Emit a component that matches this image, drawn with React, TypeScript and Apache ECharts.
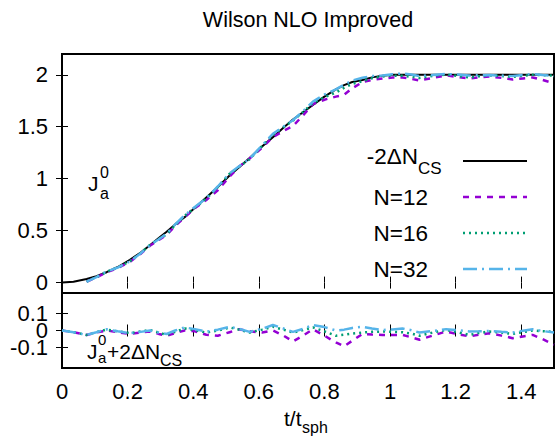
import React, { useEffect, useRef } from 'react';
import * as echarts from 'echarts';

const FONT = '"Liberation Sans", Arial, Helvetica, sans-serif';

// time grid t/t_sph
const T = [0, 0.035, 0.075, 0.105, 0.136, 0.17, 0.207, 0.24, 0.268, 0.295, 0.319, 0.345, 0.374, 0.405, 0.44, 0.475, 0.511, 0.54, 0.572, 0.61, 0.643, 0.675, 0.704, 0.735, 0.765, 0.8, 0.835, 0.86, 0.885, 0.916, 0.945, 0.977, 1.008, 1.038, 1.065, 1.09, 1.13, 1.171, 1.205, 1.242, 1.27, 1.303, 1.34, 1.374, 1.405, 1.435, 1.465, 1.5];

// -2 ΔN_CS
const NEG2DNCS = [0, 0.008, 0.035, 0.062, 0.10, 0.15, 0.22, 0.29, 0.36, 0.43, 0.49, 0.56, 0.63, 0.72, 0.82, 0.92, 1.03, 1.11, 1.20, 1.31, 1.40, 1.49, 1.57, 1.64, 1.71, 1.79, 1.86, 1.90, 1.93, 1.95, 1.975, 1.99, 2.0, 2.0, 2.0, 2.0, 2.0, 2.0, 2.0, 2.0, 2.0, 2.0, 2.0, 2.0, 2.0, 2.0, 2.0, 2.0];

// J_a^0 + 2ΔN_CS for each lattice size
const DIFF_N12 = [0, -0.01, -0.026, -0.012, 0, -0.01, -0.02, -0.012, -0.006, -0.02, -0.031, -0.015, 0, -0.005, -0.025, -0.031, -0.01, 0.007, -0.005, -0.012, 0, -0.03, -0.064, -0.03, 0.007, -0.03, -0.07, -0.093, -0.06, -0.02, -0.024, -0.026, -0.026, -0.026, -0.04, -0.054, -0.03, -0.006, -0.02, -0.035, -0.025, -0.016, -0.03, -0.045, -0.035, -0.026, -0.05, -0.083];
const DIFF_N16 = [0, -0.01, -0.026, -0.01, 0.005, -0.005, -0.015, -0.006, 0.003, -0.012, -0.026, -0.008, 0.012, 0.002, -0.012, 0, 0.018, 0.005, -0.012, 0.005, 0.022, 0.005, -0.012, 0.003, 0.018, -0.005, -0.031, -0.025, -0.018, -0.012, -0.008, -0.006, -0.008, -0.01, -0.018, -0.031, -0.012, 0.003, -0.01, -0.026, -0.015, -0.006, -0.012, -0.02, -0.01, 0, -0.004, -0.008];
const DIFF_N32 = [0, -0.01, -0.026, -0.01, 0.007, -0.005, -0.016, -0.008, 0, -0.012, -0.02, 0, 0.018, 0.008, -0.007, 0.005, 0.022, 0.01, -0.008, 0.01, 0.032, 0.012, -0.008, 0.01, 0.032, 0.02, 0, 0.005, 0.015, 0.022, 0.012, 0.003, 0.006, 0.012, 0.002, -0.012, -0.003, 0.008, 0.002, -0.006, -0.005, -0.003, -0.008, -0.012, -0.002, 0.007, -0.003, -0.012];

const X_TICKS = [0, 0.2, 0.4, 0.6, 0.8, 1, 1.2, 1.4];
const Y_TOP_TICKS = [0, 0.5, 1, 1.5, 2];
const Y_BOT_TICKS = [-0.1, 0, 0.1];
const Y_BOT_OUTER_LABELS = [-0.1, 0.1];
const Y_BOT_MID_LABELS = [0];
const LATTICE_START = 0.06;

const COLORS = { cs: '#000000', n12: '#9400d3', n16: '#009e73', n32: '#56b4e9' };
const DASH = { n12: [6, 6], n16: [2, 4], n32: [14, 5, 2, 5] };

export default function App() {
  const ref = useRef<HTMLDivElement>(null);
  useEffect(() => {
    if (!ref.current) return;
    const chart = echarts.init(ref.current, undefined, { renderer: 'svg' });

    const top = (diff: number[]) =>
      T.map((t, i) => [t, NEG2DNCS[i] + diff[i]]).filter((p) => p[0] >= LATTICE_START);
    const bot = (diff: number[]) => T.map((t, i) => [t, diff[i]]);

    const tick = (vals: number[], show = true) => ({
      show, inside: true, length: 6, customValues: vals,
      lineStyle: { color: '#000', width: 1 },
    });
    const lbl = (vals: number[], show: boolean, margin: number) => ({
      show, customValues: vals, fontSize: 22, color: '#000', fontFamily: FONT, margin,
      hideOverlap: false, showMinLabel: true, showMaxLabel: true,
    });
    const xAxis = (grid: number, position: string, labels: boolean) => ({
      type: 'value', gridIndex: grid, position, min: 0, max: 1.5,
      axisLine: { show: false }, splitLine: { show: false },
      axisTick: tick(X_TICKS), axisLabel: lbl(X_TICKS, labels, 12),
    });
    const yAxis = (grid: number, position: string, labels: boolean, min: number, max: number,
      ticks: number[], labelVals: number[], showTicks = true) => ({
      type: 'value', gridIndex: grid, position, min, max,
      axisLine: { show: false }, splitLine: { show: false },
      axisTick: tick(ticks, showTicks), axisLabel: lbl(labelVals, labels, 14),
    });

    const line = (name: string, data: number[][], color: string, width: number, dash: any, xi: number, yi: number) => ({
      name, type: 'line', data, xAxisIndex: xi, yAxisIndex: yi, showSymbol: false, symbol: 'none',
      lineStyle: { color, width, type: dash, cap: 'butt' }, clip: true,
    });

    const txt = (text: string, x: number, y: number, size: number, align = 'left') => ({
      type: 'text', x, y, z: 10,
      style: { text, fontSize: size, fontFamily: FONT, fill: '#000', align, verticalAlign: 'middle' },
    });
    const legLine = (y: number, color: string, dash: any, w: number) => ({
      type: 'line', z: 10, shape: { x1: 463, y1: y, x2: 527, y2: y },
      style: { stroke: color, lineWidth: w, lineDash: dash, lineCap: 'butt' },
    });

    chart.setOption({
      animation: false,
      backgroundColor: '#fff',
      grid: [
        { left: 62, top: 54, width: 492, height: 239, show: true, borderColor: '#000', borderWidth: 2, backgroundColor: 'transparent' },
        { left: 62, top: 293, width: 492, height: 75, show: true, borderColor: '#000', borderWidth: 2, backgroundColor: 'transparent' },
      ],
      xAxis: [xAxis(0, 'bottom', false), xAxis(0, 'top', false), xAxis(1, 'bottom', true), xAxis(1, 'top', false)],
      yAxis: [
        yAxis(0, 'left', true, -0.1, 2.2, Y_TOP_TICKS, Y_TOP_TICKS),
        yAxis(0, 'right', false, -0.1, 2.2, Y_TOP_TICKS, Y_TOP_TICKS),
        yAxis(1, 'left', true, -0.22, 0.22, Y_BOT_TICKS, Y_BOT_OUTER_LABELS),
        yAxis(1, 'right', false, -0.22, 0.22, Y_BOT_TICKS, Y_BOT_TICKS),
        // the "0" label overlaps its neighbours in the original; drawn by a second left axis
        yAxis(1, 'left', true, -0.22, 0.22, Y_BOT_MID_LABELS, Y_BOT_MID_LABELS, false),
      ],
      series: [
        line('-2ΔN_CS', T.map((t, i) => [t, NEG2DNCS[i]]), COLORS.cs, 2, 'solid', 0, 0),
        line('N=12', top(DIFF_N12), COLORS.n12, 2.5, DASH.n12, 0, 0),
        line('N=16', top(DIFF_N16), COLORS.n16, 2.5, DASH.n16, 0, 0),
        line('N=32', top(DIFF_N32), COLORS.n32, 2.5, DASH.n32, 0, 0),
        line('N=12 diff', bot(DIFF_N12), COLORS.n12, 2.5, DASH.n12, 2, 2),
        line('N=16 diff', bot(DIFF_N16), COLORS.n16, 2.5, DASH.n16, 2, 2),
        line('N=32 diff', bot(DIFF_N32), COLORS.n32, 2.5, DASH.n32, 2, 2),
      ],
      graphic: [
        txt('Wilson NLO Improved', 308, 20, 21.5, 'center'),
        // legend
        txt('-2ΔN', 418, 156, 22.5, 'right'), txt('CS', 418, 168, 17),
        legLine(161, COLORS.cs, null, 2),
        txt('N=12', 428, 197, 22.5, 'right'), legLine(197, COLORS.n12, DASH.n12, 2.5),
        txt('N=16', 428, 233, 22.5, 'right'), legLine(233, COLORS.n16, DASH.n16, 2.5),
        txt('N=32', 428, 269, 22.5, 'right'), legLine(269, COLORS.n32, DASH.n32, 2.5),
        // top panel label J_a^0
        txt('J', 88, 183, 21), txt('0', 100, 172, 16), txt('a', 100, 193, 16),
        // bottom panel label
        txt('J', 87, 351, 21), txt('0', 98, 339, 15), txt('a', 98, 357, 15),
        txt('+2ΔN', 107, 351, 21), txt('CS', 160, 360, 16),
        // x axis name
        txt('t/t', 284, 418, 21), txt('sph', 302, 427, 16),
      ],
    });
    return () => chart.dispose();
  }, []);
  return <div ref={ref} style={{ position: 'fixed', left: 0, top: 0, width: 556, height: 436, background: '#fff' }} />;
}
